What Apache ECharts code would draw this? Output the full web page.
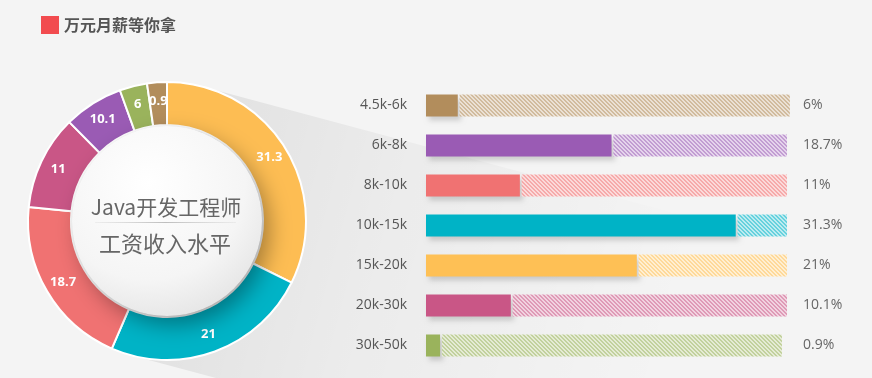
<!DOCTYPE html>
<html>
<head>
<meta charset="utf-8">
<script src="https://cdn.jsdelivr.net/npm/echarts@6/dist/echarts.min.js"></script>
<style>
html,body{margin:0;padding:0;background:#f4f4f4;}
#chart{width:872px;height:378px;}
</style>
</head>
<body>
<div id="chart"></div>
<script>
// ---- data ----
const legendName = '万元月薪等你拿';
const categories = ['4.5k-6k', '6k-8k', '8k-10k', '10k-15k', '15k-20k', '20k-30k', '30k-50k'];
const percentLabels = ['6%', '18.7%', '11%', '31.3%', '21%', '10.1%', '0.9%'];
const barFill = [8.8, 51.4, 26.0, 85.8, 58.4, 23.5, 3.9];      // filled part of each track (% of track)
const trackLength = [100.8, 100, 100, 100, 100, 100, 98.6];    // end of hatched track
const barGap = 0.5;
const barColors = ['#b28d5c', '#9a5bb4', '#f07272', '#00b3c6', '#fec055', '#c95686', '#9ab35c'];

const pieLabels = ['31.3', '21', '18.7', '11', '10.1', '6', '0.9'];
const pieShares = [32.3, 24.2, 20.1, 11.0, 6.9, 3.2, 2.3];     // slice sizes as drawn
const pieColors = ['#fdbd53', '#00b3c6', '#f07272', '#c95686', '#9a5bb4', '#9ab35c', '#b28d5c'];

const centerLine1 = 'Java开发工程师';
const centerLine2 = '工资收入水平';

// ---- helpers ----
function mix(hex, t) {
  const n = parseInt(hex.slice(1), 16);
  const r = (n >> 16) & 255, g = (n >> 8) & 255, b = n & 255;
  const f = c => Math.round(c + (255 - c) * t);
  return 'rgb(' + f(r) + ',' + f(g) + ',' + f(b) + ')';
}
function hatch(hex) {
  const c = document.createElement('canvas');
  c.width = 4; c.height = 4;
  const ctx = c.getContext('2d');
  ctx.fillStyle = mix(hex, 0.74);
  ctx.fillRect(0, 0, 4, 4);
  ctx.fillStyle = mix(hex, 0.4);
  for (let y = 0; y < 4; y++) {
    for (let x = 0; x < 4; x++) {
      const d = ((x - y) % 4 + 4) % 4;
      if (d === 0 || d === 1) ctx.fillRect(x, y, 1, 1);
    }
  }
  return { image: c, repeat: 'repeat' };
}

const chart = echarts.init(document.getElementById('chart'), null, { renderer: 'canvas' });
const font = "'Noto Sans CJK SC', 'Noto Sans', sans-serif";

const cx = 167, cy = 221, rIn = 96, rOut = 139;
const ang = 15 * Math.PI / 180;
const dx = Math.cos(ang), dy = Math.sin(ang);
const nx = -dy, ny = dx;
const L = 900;
const p1 = [cx - rOut * nx, cy - rOut * ny];
const p2 = [cx + rOut * nx, cy + rOut * ny];

const option = {
  backgroundColor: '#f4f4f4',
  textStyle: { fontFamily: font },
  animation: false,
  legend: {
    left: 36, top: 11,
    itemWidth: 18, itemHeight: 18,
    selectedMode: false,
    data: [{ name: legendName, icon: 'rect', itemStyle: { color: '#f24b4f' } }],
    textStyle: { fontSize: 16, fontWeight: 'bold', color: '#555' }
  },
  grid: { left: 426, right: 85, top: 85.5, bottom: 12.5 },
  xAxis: { type: 'value', min: 0, max: 100, show: false },
  yAxis: [
    {
      type: 'category', data: categories, inverse: true,
      axisLine: { show: false }, axisTick: { show: false }, splitLine: { show: false },
      axisLabel: { fontSize: 14, color: '#555', margin: 19, fontFamily: "'Open Sans', 'Noto Sans', sans-serif" }
    },
    {
      type: 'category', data: percentLabels, inverse: true, position: 'right',
      axisLine: { show: false }, axisTick: { show: false }, splitLine: { show: false },
      axisLabel: { fontSize: 14, color: '#666', margin: 16, fontFamily: "'Open Sans', 'Noto Sans', sans-serif" }
    }
  ],
  graphic: [
    {
      type: 'polygon', z: -10, silent: true,
      shape: { points: [p1, [p1[0] + L * dx, p1[1] + L * dy], [p2[0] + L * dx, p2[1] + L * dy], p2] },
      style: {
        fill: {
          type: 'linear', global: true,
          x: cx, y: cy, x2: cx + 520 * dx, y2: cy + 520 * dy,
          colorStops: [
            { offset: 0, color: 'rgba(0,0,0,0.08)' },
            { offset: 0.4, color: 'rgba(0,0,0,0.035)' },
            { offset: 1, color: 'rgba(0,0,0,0)' }
          ]
        }
      }
    },
    {
      type: 'circle', z: 100, silent: true,
      shape: { cx: cx, cy: cy, r: rIn - 1 },
      style: {
        fill: {
          type: 'radial', x: 0.4, y: 0.3, r: 0.85,
          colorStops: [{ offset: 0, color: '#ffffff' }, { offset: 0.6, color: '#f5f5f5' }, { offset: 1, color: '#dedede' }]
        },
        shadowBlur: 22, shadowColor: 'rgba(0,0,0,0.35)', shadowOffsetX: 7, shadowOffsetY: 9
      }
    },
    {
      type: 'text', z: 101, silent: true,
      style: { text: centerLine1, x: 166, y: 207, align: 'center', verticalAlign: 'middle',
        fontSize: 21, fill: '#666', fontFamily: font }
    },
    {
      type: 'line', z: 101, silent: true,
      shape: { x1: 95, y1: 222.5, x2: 236, y2: 222.5 },
      style: { lineWidth: 1,
        stroke: { type: 'linear', x: 0, y: 0, x2: 1, y2: 0,
          colorStops: [{ offset: 0, color: 'rgba(200,200,200,0.2)' }, { offset: 0.5, color: 'rgba(190,190,190,1)' }, { offset: 1, color: 'rgba(200,200,200,0.2)' }] } }
    },
    {
      type: 'text', z: 101, silent: true,
      style: { text: centerLine2, x: 165, y: 244, align: 'center', verticalAlign: 'middle',
        fontSize: 22, fill: '#666', fontFamily: font }
    }
  ],
  series: [
    {
      type: 'pie', z: 5,
      center: [cx, cy], radius: [rIn, rOut], startAngle: 90, clockwise: true,
      silent: true,
      itemStyle: { borderColor: '#ffffff', borderWidth: 2 },
      label: {
        show: true, position: 'inside', color: '#fff', fontSize: 13, fontWeight: 'bold',
        fontFamily: "'Open Sans', 'Noto Sans', sans-serif",
        formatter: p => pieLabels[p.dataIndex]
      },
      labelLine: { show: false },
      data: pieShares.map((v, i) => ({ value: v, name: pieLabels[i], itemStyle: { color: pieColors[i] } }))
    },
    {
      name: legendName, type: 'bar', stack: 'row', barWidth: 22, clip: false,
      itemStyle: { color: '#f24b4f', shadowColor: 'rgba(0,0,0,0.16)', shadowBlur: 5, shadowOffsetX: 3, shadowOffsetY: 4 },
      data: barFill.map((v, i) => ({ value: v, itemStyle: { color: barColors[i] } }))
    },
    {
      type: 'bar', stack: 'row', barWidth: 22, clip: false, silent: true,
      itemStyle: { color: 'rgba(0,0,0,0)' },
      data: barFill.map(() => barGap)
    },
    {
      type: 'bar', stack: 'row', barWidth: 22, clip: false, silent: true,
      data: barFill.map((v, i) => ({ value: +(trackLength[i] - v - barGap).toFixed(2), itemStyle: { color: hatch(barColors[i]) } }))
    }
  ]
};
chart.setOption(option);
</script>
</body>
</html>
